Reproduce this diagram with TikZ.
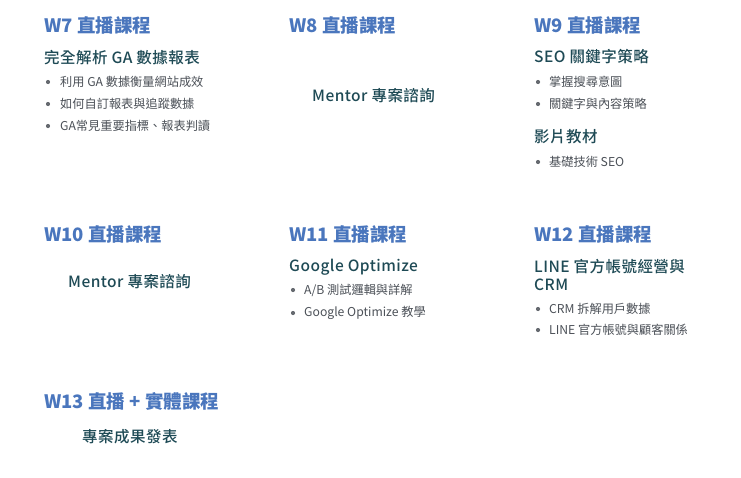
\documentclass[tikz,border=0pt]{standalone}
\usepackage{fontspec}
\setmainfont{Noto Sans CJK TC}
\newfontfamily\medfont[LetterSpace=3]{Noto Sans CJK TC Medium}
\definecolor{weekblue}{HTML}{4A76BD}
\definecolor{topicteal}{HTML}{1E4A55}
\definecolor{itemgray}{HTML}{4B5057}

\begin{document}
\begin{tikzpicture}[x=1pt,y=-1pt,
        week/.style={anchor=west,inner sep=0pt,text=weekblue,font=\fontsize{18.5}{22}\selectfont\bfseries},
        topic/.style={anchor=west,inner sep=0pt,text=topicteal,font=\fontsize{15.5}{18}\selectfont\medfont},
        item/.style={anchor=west,inner sep=0pt,text=itemgray,font=\fontsize{12.2}{14}\selectfont},
        dot/.style={circle,fill=itemgray!85,inner sep=0pt,minimum size=4.2pt}]
        \useasboundingbox (0,0) rectangle (741,477);
        % W7
        \node[week] (w7) at (44,25){W7 直播課程};
        \node[topic] (w7t) at (44,58){完全解析 GA 數據報表};
        \node[dot] (w7d1) at (48,82){};
        \node[item] (w7i1) at (60,82){利用 GA 數據衡量網站成效};
        \node[dot] (w7d2) at (48,104){};
        \node[item] (w7i2) at (60,104){如何自訂報表與追蹤數據};
        \node[dot] (w7d3) at (48,126){};
        \node[item] (w7i3) at (60,126){GA常見重要指標、報表判讀};
        % W8
        \node[week] (w8) at (289,25){W8 直播課程};
        \node[topic] (w8t) at (312,96){Mentor 專案諮詢};
        % W9
        \node[week] (w9) at (534,25){W9 直播課程};
        \node[topic] (w9t) at (534,57){SEO 關鍵字策略};
        \node[dot] (w9d1) at (538,82){};
        \node[item] (w9i1) at (549,82){掌握搜尋意圖};
        \node[dot] (w9d2) at (538,104){};
        \node[item] (w9i2) at (549,104){關鍵字與內容策略};
        \node[topic] (w9v) at (534,137){影片教材};
        \node[dot] (w9d3) at (538,162){};
        \node[item] (w9i3) at (549,162){基礎技術 SEO};
        % W10
        \node[week] (w10) at (44,234){W10 直播課程};
        \node[topic] (w10t) at (68,282){Mentor 專案諮詢};
        % W11
        \node[week] (w11) at (289,234){W11 直播課程};
        \node[topic] (w11t) at (289,267){Google Optimize};
        \node[dot] (w11d1) at (293,290){};
        \node[item] (w11i1) at (304,290){A/B 測試邏輯與詳解};
        \node[dot] (w11d2) at (293,313){};
        \node[item] (w11i2) at (304,313){Google Optimize 教學};
        % W12
        \node[week] (w12) at (534,234){W12 直播課程};
        \node[topic,align=left] (w12t) at (534,275){LINE 官方帳號經營與\\CRM};
        \node[dot] (w12d1) at (538,309){};
        \node[item] (w12i1) at (549,309){CRM 拆解用戶數據};
        \node[dot] (w12d2) at (538,330){};
        \node[item] (w12i2) at (549,330){LINE 官方帳號與顧客關係};
        % W13
        \node[week] (w13) at (44,401){W13 直播 + 實體課程};
        \node[topic] (w13t) at (82,437){專案成果發表};
    \end{tikzpicture}
\end{document}
